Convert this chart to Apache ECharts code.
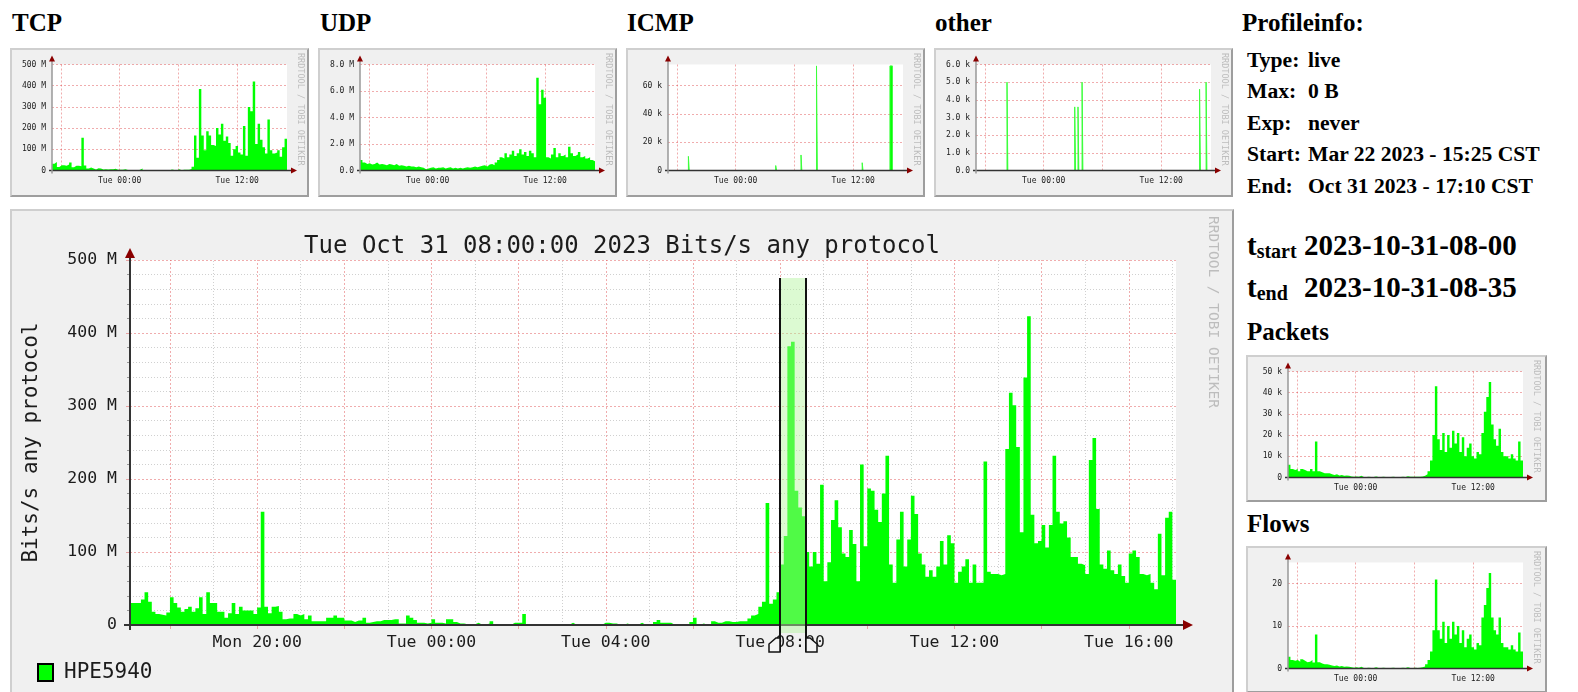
<!DOCTYPE html>
<html>
<head>
<meta charset="utf-8">
<title>Profile live - HPE5940</title>
<script src="https://cdn.jsdelivr.net/npm/echarts@6.0.0/dist/echarts.min.js"></script>
<style>
  html, body { margin:0; padding:0; background:#fff; }
  body { position:relative; width:1578px; height:692px; overflow:hidden;
         font-family:'Liberation Serif','Times New Roman',serif; color:#000; }
  .head { position:absolute; font-weight:bold; font-size:25px; line-height:25px; white-space:nowrap; }
  .box { position:absolute; box-sizing:border-box; background:#f0f0f0;
         border-style:solid; border-width:2px;
         border-color:#cfcfcf #9e9e9e #9e9e9e #cfcfcf; }
  .box > div { position:absolute; left:0; top:0; width:100%; height:100%; }
  .info { position:absolute; font-weight:bold; font-size:21.6px; line-height:21.6px; white-space:nowrap; }
  .tl { position:absolute; font-weight:bold; font-size:29px; line-height:29px; white-space:nowrap; }
  .tl sub { font-size:20px; vertical-align:baseline; position:relative; top:3px; }
</style>
</head>
<body>
<div class="head" style="left:12px;top:10px">TCP</div>
<div class="head" style="left:320px;top:10px">UDP</div>
<div class="head" style="left:627px;top:10px">ICMP</div>
<div class="head" style="left:935px;top:10px">other</div>
<div class="head" style="left:1242px;top:10px">Profileinfo:</div>

<div class="box" style="left:10px;top:48px;width:299px;height:149px"><div id="tcp"></div></div>
<div class="box" style="left:318px;top:48px;width:299px;height:149px"><div id="udp"></div></div>
<div class="box" style="left:626px;top:48px;width:299px;height:149px"><div id="icmp"></div></div>
<div class="box" style="left:934px;top:48px;width:299px;height:149px"><div id="other"></div></div>

<div class="box" style="left:10px;top:209px;width:1224px;height:500px;border-bottom:none"><div id="main"></div></div>

<div id="profile"></div>
<div class="tl" style="left:1247px;top:231px">t<sub>start</sub></div>
<div class="tl" id="tstart" style="left:1304px;top:231px"></div>
<div class="tl" style="left:1247px;top:273px">t<sub>end</sub></div>
<div class="tl" id="tend" style="left:1304px;top:273px"></div>

<div class="head" style="left:1247px;top:319px">Packets</div>
<div class="box" style="left:1246px;top:355px;width:301px;height:147px"><div id="packets"></div></div>
<div class="head" style="left:1247px;top:511px">Flows</div>
<div class="box" style="left:1246px;top:546px;width:301px;height:147px"><div id="flows"></div></div>

<script>
// ---------------- data ----------------
// Total traffic, Mbit/s, one value per 5 minutes starting Mon 17:05 (288 values = 24 h)
const bitsPerSecM = [
  30,30,30,35,45,32,18,15,14,13,17,38,
  30,24,18,22,25,18,23,38,15,45,30,30,
  18,18,10,16,30,15,25,20,20,20,15,24,
  155,25,16,25,26,18,8,9,9,15,13,15,
  8,13,5,5,5,5,10,10,13,10,10,6,
  6,4,6,6,10,3,4,5,5,7,7,7,
  8,8,2,2,13,10,7,3,3,2,3,8,
  3,3,2,8,8,4,2,2,1,1,1,3,
  0.5,0.5,2,5,0.5,0.5,0.5,0.5,0.5,3,3,3,
  15,0.3,0.3,0.3,0.3,0.3,0.3,0.3,0.3,0.3,0.3,0.3,
  0.3,3,0.3,0.3,0.3,0.3,0.3,0.3,0.3,0.3,3,3,
  2,2,0.5,0.5,2,0.5,0.5,0.5,3,0.5,0.5,0.5,
  4,7,3,3,3,0.5,0.5,0.5,0.5,0.5,4,10,
  0.5,2,0.5,0.5,5,3,3,5,5,4,4,5,
  5,5,9,13,15,25,32,167,29,35,45,83,
  122,382,388,184,161,149,100,80,100,84,192,60,
  86,144,171,134,98,93,130,111,60,220,108,187,
  184,158,141,180,232,83,58,117,155,80,117,177,
  152,98,83,66,75,66,80,115,83,123,112,58,
  73,80,90,58,83,58,58,224,73,70,70,68,
  70,241,318,301,244,127,339,423,151,112,115,137,
  106,137,232,155,139,142,120,93,93,84,82,70,
  226,256,159,83,77,102,75,70,83,67,58,98,
  102,93,70,68,70,58,49,125,68,147,155,62
];
const seriesName = 'HPE5940';
const mainTitle = 'Tue Oct 31 08:00:00 2023 Bits/s any protocol';
const mainYName = 'Bits/s any protocol';
const mainTimeTicks = ['Mon 20:00', 'Tue 00:00', 'Tue 04:00', 'Tue 08:00', 'Tue 12:00', 'Tue 16:00'];
const selection = ['Tue 08:00', 'Tue 08:35'];

// Thumbnails, one value per 15 minutes starting Mon 17:05 (96 values)
const tcpM = [
  32,40,16,25,25,22,28,38,15,22,22,20,155,24,9,14,9,5,11,9,5,6,5,6,
  6,8,4,4,3,6,2,2,1,2,0.5,3,10,0.3,0.3,0.3,1.5,0.3,0.3,2,2,1,1.5,0.5,
  5,2,0.5,6,1,3,4,4,7,18,165,60,385,165,95,185,165,120,115,200,170,220,140,160,
  130,70,100,115,85,75,210,70,300,280,420,125,220,145,110,80,240,95,80,85,95,65,110,150
];
const udpM = [
  0.8,0.6,0.5,0.55,0.45,0.5,0.6,0.45,0.5,0.45,0.4,0.5,
  0.45,0.4,0.5,0.35,0.4,0.35,0.3,0.35,0.3,0.3,0.25,0.3,
  0.25,0.2,0.1,0.15,0.2,0.25,0.15,0.2,0.2,0.25,0.15,0.2,
  0.25,0.15,0.2,0.15,0.2,0.15,0.2,0.25,0.2,0.25,0.3,0.25,
  0.3,0.35,0.4,0.3,0.45,0.5,0.4,0.6,0.8,1.0,0.9,1.3,
  1.0,1.2,1.5,1.1,1.3,1.6,1.2,1.4,1.1,1.5,1.3,1.0,
  7.0,5.0,6.1,5.5,1.0,0.9,1.2,1.7,1.0,1.3,1.1,1.2,
  1.0,1.8,1.3,1.1,1.2,1.4,1.0,1.1,0.9,1.0,0.8,0.7
];
const packetsK = [
  6,4,3.5,4,3,4,3.5,3,3,4,3,17,
  3,2.5,2,2,2,1.5,1.2,1.5,1,1.2,0.8,1,
  0.8,0.5,0.3,0.5,0.3,0.8,0.2,0.2,0.3,0.2,0.2,0.5,
  0.2,0.2,0.3,0.2,0.2,0.2,0.3,0.2,0.2,0.2,0.3,0.2,
  0.6,0.3,0.3,0.3,0.3,0.3,0.5,0.8,1.5,3,8,20,
  43,18,13,21,12,20,14,22,16,21,12,19,
  10,14,16,10,9,12,11,21,31,38,45,25,
  18,15,23,12,10,10,9,11,9,8,17,8
];
const flowsCount = [
  2.8,2,1.8,2,1.6,2.2,1.8,1.5,1.6,2,1.4,8,
  1.5,1.2,1,1,0.9,0.7,0.6,0.7,0.5,0.6,0.4,0.5,
  0.4,0.3,0.2,0.3,0.2,0.4,0.1,0.1,0.2,0.1,0.1,0.3,
  0.1,0.1,0.2,0.1,0.1,0.1,0.2,0.1,0.1,0.1,0.2,0.1,
  0.3,0.1,0.1,0.2,0.1,0.2,0.3,0.5,1,2,4,9,
  21,9,7,11,6,10,7,11,8,10,6,9,
  5,7,8,5,4.5,6,5.5,12,15,19,22.5,12,
  9,8,12,6,5,5,4.5,5.5,4.5,4,8.5,4
];
// Short bursts: clock time, height, duration in minutes
const icmpSpikeTimes = ['19:10', '04:05', '06:40', '08:15', '12:55', '15:45'];
const icmpSpikeK = [10, 3.5, 11, 74, 5.5, 74];
const icmpSpikeMinutes = [5, 5, 5, 5, 5, 15];
const otherSpikeTimes = ['20:15', '03:10', '03:30', '03:55', '15:55', '16:35'];
const otherSpikeK = [5.0, 3.6, 3.6, 5.0, 4.6, 5.0];
const otherSpikeMinutes = [5, 5, 5, 5, 5, 5];

// Thumbnail y ticks and their labels
const tcpTicks = [0, 100, 200, 300, 400, 500];
const tcpTickLabels = ['0', '100 M', '200 M', '300 M', '400 M', '500 M'];
const udpTicks = [0, 2, 4, 6, 8];
const udpTickLabels = ['0.0', '2.0 M', '4.0 M', '6.0 M', '8.0 M'];
const icmpTicks = [0, 20, 40, 60];
const icmpTickLabels = ['0', '20 k', '40 k', '60 k'];
const otherTicks = [0, 1, 2, 3, 4, 5, 6];
const otherTickLabels = ['0.0', '1.0 k', '2.0 k', '3.0 k', '4.0 k', '5.0 k', '6.0 k'];
const packetsTicks = [0, 10, 20, 30, 40, 50];
const packetsTickLabels = ['0', '10 k', '20 k', '30 k', '40 k', '50 k'];
const flowsTicks = [0, 10, 20];
const flowsTickLabels = ['0', '10', '20'];
const thumbTimeTicks = ['Tue 00:00', 'Tue 12:00'];
const thumbGridTimes = ['Mon 18:00', 'Tue 00:00', 'Tue 06:00', 'Tue 12:00'];

// Profile panel
const profileInfo = [
  ['Type:', 'live'], ['Max:', '0 B'], ['Exp:', 'never'],
  ['Start:', 'Mar 22 2023 - 15:25 CST'], ['End:', 'Oct 31 2023 - 17:10 CST']
];
const tStart = '2023-10-31-08-00';
const tEnd = '2023-10-31-08-35';

// ---------------- profile text ----------------
(function () {
  const host = document.getElementById('profile');
  profileInfo.forEach((row, i) => {
    const top = 50 + i * 31.4;
    host.insertAdjacentHTML('beforeend',
      '<div class="info" style="left:1247px;top:' + top + 'px">' + row[0] + '</div>' +
      '<div class="info" style="left:1308px;top:' + top + 'px">' + row[1] + '</div>');
  });
  document.getElementById('tstart').textContent = tStart;
  document.getElementById('tend').textContent = tEnd;
})();

// ---------------- time helpers (wall clock kept in UTC) ----------------
const DAY0 = Date.UTC(2023, 9, 30);   // Mon Oct 30 2023 00:00
const MIN = 60e3, HOUR = 60 * MIN;
function at(label) {
  const parts = label.split(' ');
  const hm = parts[1].split(':').map(Number);
  return DAY0 + (parts[0] === 'Tue' ? 24 * HOUR : 0) + hm[0] * HOUR + hm[1] * MIN;
}
const windowStart = at('Mon 17:05');
const windowEnd = windowStart + 24 * HOUR;
function clockInWindow(hm) {
  const t = at('Mon ' + hm);
  return t >= windowStart ? t : t + 24 * HOUR;
}
function pad(n) { return String(n).padStart(2, '0'); }
function clockLabel(ts) {
  const d = new Date(ts);
  return (d.getUTCDate() === 30 ? 'Mon' : 'Tue') + ' ' + pad(d.getUTCHours()) + ':' + pad(d.getUTCMinutes());
}
function stepPoints(values, stepMin) {
  const pts = values.map((v, i) => [windowStart + i * stepMin * MIN, v]);
  pts.push([windowStart + values.length * stepMin * MIN, values[values.length - 1]]);
  return pts;
}
function spikePoints(times, values, minutes) {
  const pts = [[windowStart, 0], [windowEnd, 0]];
  times.forEach((hm, i) => {
    const s = clockInWindow(hm), e = s + minutes[i] * MIN;
    pts.push([s, 0], [s, values[i]], [e, values[i]], [e, 0]);
  });
  return pts.sort((a, b) => a[0] - b[0]);
}

// ---------------- colours (rrdtool defaults) ----------------
const C = {
  font: '#1c1c1c',
  grid: 'rgba(143,143,143,0.42)',
  mgrid: 'rgba(222,72,73,0.45)',
  axis: '#333',
  arrow: '#8a0000',
  area: '#00ff00',
  mark: '#bdbdbd'
};
const mono = "'DejaVu Sans Mono', monospace";

// ---------------- main graph ----------------
const main = echarts.init(document.getElementById('main'), null, { renderer: 'canvas' });
const MG = { left: 118, top: 49, width: 1046, height: 365 };
const mgRight = MG.left + MG.width, mgBottom = MG.top + MG.height;

const hourLines = [], evenHours = [];
for (let t = Math.ceil(windowStart / HOUR) * HOUR; t < windowEnd; t += HOUR) {
  const even = new Date(t).getUTCHours() % 2 === 0;
  if (even) evenHours.push(t);
  hourLines.push({
    xAxis: t,
    lineStyle: even ? { color: C.mgrid, type: [2, 2], width: 1 } : { color: C.grid, type: [1, 2], width: 1 }
  });
}

main.setOption({
  animation: false,
  textStyle: { fontFamily: mono },
  grid: Object.assign({ show: true, backgroundColor: '#fff', borderWidth: 0 }, MG),
  xAxis: {
    type: 'value', min: windowStart, max: windowEnd,
    axisLine: { show: false }, splitLine: { show: false },
    axisTick: { show: true, customValues: evenHours, length: 4, lineStyle: { color: C.mgrid } },
    axisLabel: { customValues: mainTimeTicks.map(at), formatter: v => clockLabel(v),
      fontFamily: mono, fontSize: 16.5, color: C.font, margin: 9 }
  },
  yAxis: {
    type: 'value', min: 0, max: 500, interval: 100,
    axisLine: { show: false },
    axisTick: { show: true, length: 4, lineStyle: { color: C.mgrid } },
    minorTick: { show: true, splitNumber: 5, length: 3, lineStyle: { color: '#999' } },
    axisLabel: { formatter: v => (v === 0 ? '0' : v + ' M'), fontFamily: mono, fontSize: 16.5, color: C.font, margin: 13 },
    splitLine: { lineStyle: { color: C.mgrid, type: [2, 2] } },
    minorSplitLine: { show: true, lineStyle: { color: C.grid, type: [1, 2] } },
    name: mainYName, nameLocation: 'middle', nameGap: 88,
    nameTextStyle: { fontFamily: mono, fontSize: 21, color: C.font }
  },
  legend: {
    left: 20, top: 446, itemWidth: 15, itemHeight: 17, icon: 'rect',
    textStyle: { fontFamily: mono, fontSize: 21, color: C.font, padding: [0, 0, 0, 6] },
    data: [{ name: seriesName, itemStyle: { color: C.area, borderColor: '#000', borderWidth: 2 } }]
  },
  series: [
    {
      type: 'line', name: 'hour grid', silent: true, symbol: 'none', z: 1,
      lineStyle: { width: 0 }, data: [[windowStart, 0]],
      markLine: { z: 1, silent: true, symbol: 'none', label: { show: false }, animation: false, data: hourLines }
    },
    {
      type: 'line', name: seriesName, color: C.area, z: 3, step: 'end',
      symbol: 'none', showSymbol: false, lineStyle: { width: 0 },
      areaStyle: { color: C.area, opacity: 1 },
      data: stepPoints(bitsPerSecM, 5)
    }
  ],
  graphic: [
    { id: 'title', type: 'text', x: 610, y: 36, z: 50,
      style: { text: mainTitle, fontFamily: mono, fontSize: 24, fill: C.font, textAlign: 'center', textVerticalAlign: 'middle' } },
    { id: 'mark', type: 'text', x: 1201, y: 5, rotation: -Math.PI / 2, z: 50,
      style: { text: 'RRDTOOL / TOBI OETIKER', fontFamily: mono, fontSize: 14.5, fill: C.mark, textAlign: 'left', textVerticalAlign: 'middle' } },
    { id: 'xline', type: 'line', z: 60, shape: { x1: MG.left - 6, y1: mgBottom, x2: mgRight + 9, y2: mgBottom }, style: { stroke: C.axis, lineWidth: 2 } },
    { id: 'yline', type: 'line', z: 60, shape: { x1: MG.left, y1: mgBottom + 5, x2: MG.left, y2: MG.top - 6 }, style: { stroke: C.axis, lineWidth: 2 } },
    { id: 'xarrow', type: 'polygon', z: 61, shape: { points: [[mgRight + 7, mgBottom - 5], [mgRight + 17, mgBottom], [mgRight + 7, mgBottom + 5]] }, style: { fill: C.arrow } },
    { id: 'yarrow', type: 'polygon', z: 61, shape: { points: [[MG.left - 5, MG.top - 2], [MG.left, MG.top - 12], [MG.left + 5, MG.top - 2]] }, style: { fill: C.arrow } }
  ]
});

// selected time slot overlay, placed through the x axis scale
(function () {
  const x0 = Math.round(main.convertToPixel({ xAxisIndex: 0 }, at(selection[0])));
  const x1 = Math.round(main.convertToPixel({ xAxisIndex: 0 }, at(selection[1])));
  const top = 67, bandBottom = 422, hTop = 427, hBottom = 441;
  const handleStyle = { fill: '#f4f4f4', stroke: '#111', lineWidth: 1.5 };
  main.setOption({
    graphic: [
      { id: 'selBand', type: 'rect', z: 70, shape: { x: x0, y: top, width: x1 - x0, height: bandBottom - top },
        style: { fill: 'rgba(177,244,155,0.45)' } },
      { id: 'selL', type: 'line', z: 71, shape: { x1: x0, y1: top, x2: x0, y2: hBottom }, style: { stroke: '#111', lineWidth: 2 } },
      { id: 'selR', type: 'line', z: 71, shape: { x1: x1, y1: top, x2: x1, y2: hBottom }, style: { stroke: '#111', lineWidth: 2 } },
      { id: 'selHL', type: 'polygon', z: 72, shape: { points: [[x0 - 11, hBottom], [x0 - 11, hTop + 6], [x0 - 4, hTop], [x0, hTop], [x0, hBottom]] }, style: handleStyle },
      { id: 'selHR', type: 'polygon', z: 72, shape: { points: [[x1, hBottom], [x1, hTop], [x1 + 4, hTop], [x1 + 11, hTop + 6], [x1 + 11, hBottom]] }, style: handleStyle }
    ]
  });
})();

// ---------------- thumbnails ----------------
function thumb(id, points, stepped, yMax, ticks, tickLabels) {
  const el = document.getElementById(id);
  const chart = echarts.init(el, null, { renderer: 'canvas' });
  const G = { left: 40, top: 14.5, width: 235, height: 106 };
  const right = G.left + G.width, bottom = G.top + G.height;
  const lines = thumbGridTimes.map(t => ({ xAxis: at(t) }))
    .concat(ticks.filter(v => v > 0).map(v => ({ yAxis: v })));
  chart.setOption({
    animation: false,
    textStyle: { fontFamily: mono },
    grid: Object.assign({ show: true, backgroundColor: '#fff', borderWidth: 0 }, G),
    xAxis: {
      type: 'value', min: windowStart, max: windowEnd,
      axisLine: { show: false }, axisTick: { show: false }, splitLine: { show: false },
      axisLabel: { customValues: thumbTimeTicks.map(at), formatter: v => clockLabel(v),
        fontFamily: mono, fontSize: 8, color: C.font, margin: 6 }
    },
    yAxis: {
      type: 'value', min: 0, max: yMax,
      axisLine: { show: false }, axisTick: { show: false }, splitLine: { show: false },
      axisLabel: { customValues: ticks, formatter: v => tickLabels[ticks.indexOf(v)],
        fontFamily: mono, fontSize: 8, color: C.font, margin: 6 }
    },
    series: [
      { type: 'line', silent: true, symbol: 'none', z: 1, lineStyle: { width: 0 }, data: [[windowStart, 0]],
        markLine: { z: 1, silent: true, symbol: 'none', label: { show: false }, animation: false,
          lineStyle: { color: C.mgrid, type: [2, 2], width: 1 }, data: lines } },
      { type: 'line', z: 3, step: stepped ? 'end' : false, symbol: 'none', showSymbol: false,
        lineStyle: stepped ? { width: 0 } : { width: 1, color: '#3cff3c' },
        areaStyle: { color: C.area, opacity: 1 }, data: points }
    ],
    graphic: [
      { id: 'mark', type: 'text', x: right + 13, y: 3, rotation: -Math.PI / 2, z: 50,
        style: { text: 'RRDTOOL / TOBI OETIKER', fontFamily: mono, fontSize: 8.5, fill: C.mark, textAlign: 'left', textVerticalAlign: 'middle' } },
      { id: 'xline', type: 'line', z: 60, shape: { x1: G.left - 3, y1: bottom, x2: right + 5, y2: bottom }, style: { stroke: C.axis, lineWidth: 1.5 } },
      { id: 'yline', type: 'line', z: 60, shape: { x1: G.left, y1: bottom + 3, x2: G.left, y2: G.top - 5 }, style: { stroke: '#999', lineWidth: 1.5 } },
      { id: 'xarrow', type: 'polygon', z: 61, shape: { points: [[right + 4, bottom - 3], [right + 10, bottom], [right + 4, bottom + 3]] }, style: { fill: C.arrow } },
      { id: 'yarrow', type: 'polygon', z: 61, shape: { points: [[G.left - 3, G.top - 3], [G.left, G.top - 9], [G.left + 3, G.top - 3]] }, style: { fill: C.arrow } }
    ]
  });
}

thumb('tcp', stepPoints(tcpM, 15), true, 500, tcpTicks, tcpTickLabels);
thumb('udp', stepPoints(udpM, 15), true, 8, udpTicks, udpTickLabels);
thumb('icmp', spikePoints(icmpSpikeTimes, icmpSpikeK, icmpSpikeMinutes), false, 75, icmpTicks, icmpTickLabels);
thumb('other', spikePoints(otherSpikeTimes, otherSpikeK, otherSpikeMinutes), false, 6, otherTicks, otherTickLabels);
thumb('packets', stepPoints(packetsK, 15), true, 50, packetsTicks, packetsTickLabels);
thumb('flows', stepPoints(flowsCount, 15), true, 25, flowsTicks, flowsTickLabels);
</script>
</body>
</html>
